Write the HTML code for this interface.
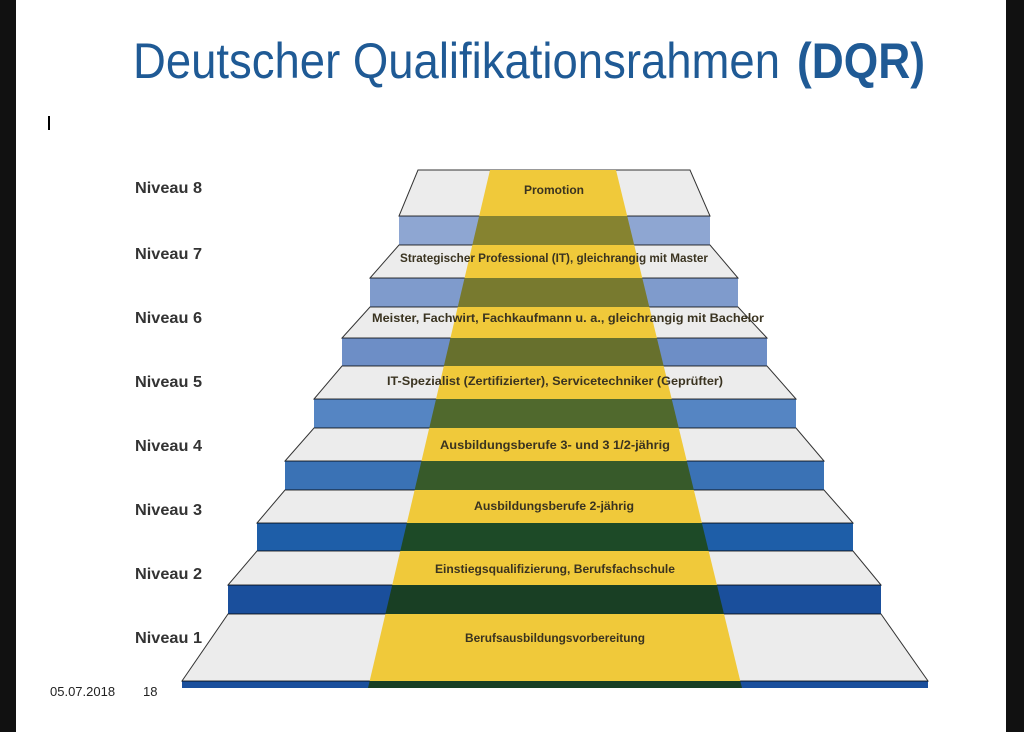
<!DOCTYPE html>
<html><head><meta charset="utf-8"><style>
html,body{margin:0;padding:0;background:#000;}
svg{display:block}
</style></head><body>
<svg width="1024" height="732" viewBox="0 0 1024 732" xmlns="http://www.w3.org/2000/svg">
<rect x="0" y="0" width="1024" height="732" fill="#111"/>
<rect x="16" y="0" width="990" height="732" fill="#fff"/>
<text x="133" y="78" font-family="Liberation Sans, sans-serif" font-size="50" fill="#1f5a95" textLength="647" lengthAdjust="spacingAndGlyphs">Deutscher Qualifikationsrahmen</text>
<text x="797" y="78" font-family="Liberation Sans, sans-serif" font-size="50" font-weight="bold" fill="#1f5a95" textLength="128" lengthAdjust="spacingAndGlyphs">(DQR)</text>
<rect x="48" y="116" width="2" height="14" fill="#000"/>

<g stroke="#333" stroke-width="1" fill="#ececec">
<polygon points="418,170 690,170 710,216 399,216"/>
<polygon points="399,245 710,245 738,278 370,278"/>
<polygon points="370,307 738,307 767,338 342,338"/>
<polygon points="342,366 767,366 796,399 314,399"/>
<polygon points="314,428 796,428 824,461 285,461"/>
<polygon points="285,490 824,490 853,523 257,523"/>
<polygon points="257,551 853,551 881,585 228,585"/>
<polygon points="228,614 881,614 928,681 182,681"/>
</g>
<polygon points="490,170 616,170 742,688 368,688" fill="#f0c93a"/>
<g style="mix-blend-mode:multiply">
<rect x="399" y="216" width="311" height="29" fill="#8ea6d2"/>
<rect x="370" y="278" width="368" height="29" fill="#7f9bcc"/>
<rect x="342" y="338" width="425" height="28" fill="#6d8ec6"/>
<rect x="314" y="399" width="482" height="29" fill="#5585c3"/>
<rect x="285" y="461" width="539" height="29" fill="#3a72b5"/>
<rect x="257" y="523" width="596" height="28" fill="#1e5ea8"/>
<rect x="228" y="585" width="653" height="29" fill="#1a4f9c"/>
<rect x="182" y="681" width="746" height="7" fill="#1a4f9c"/>
</g>
<g font-family="Liberation Sans Narrow, Liberation Sans, sans-serif" font-size="12" font-weight="bold" fill="#3a3320" text-anchor="middle">
<text x="554" y="194" textLength="60" lengthAdjust="spacingAndGlyphs">Promotion</text>
<text x="554" y="262" textLength="308" lengthAdjust="spacingAndGlyphs">Strategischer Professional (IT), gleichrangig mit Master</text>
<text x="568" y="322" textLength="392" lengthAdjust="spacingAndGlyphs">Meister, Fachwirt, Fachkaufmann u. a., gleichrangig mit Bachelor</text>
<text x="555" y="385" textLength="336" lengthAdjust="spacingAndGlyphs">IT-Spezialist (Zertifizierter), Servicetechniker (Geprüfter)</text>
<text x="555" y="449" textLength="230" lengthAdjust="spacingAndGlyphs">Ausbildungsberufe 3- und 3 1/2-jährig</text>
<text x="554" y="510" textLength="160" lengthAdjust="spacingAndGlyphs">Ausbildungsberufe 2-jährig</text>
<text x="555" y="573" textLength="240" lengthAdjust="spacingAndGlyphs">Einstiegsqualifizierung, Berufsfachschule</text>
<text x="555" y="642" textLength="180" lengthAdjust="spacingAndGlyphs">Berufsausbildungsvorbereitung</text>
</g>
<g font-family="Liberation Sans Narrow, Liberation Sans, sans-serif" font-size="16" font-weight="bold" fill="#333">
<text x="135" y="193" textLength="67" lengthAdjust="spacingAndGlyphs">Niveau 8</text>
<text x="135" y="259" textLength="67" lengthAdjust="spacingAndGlyphs">Niveau 7</text>
<text x="135" y="323" textLength="67" lengthAdjust="spacingAndGlyphs">Niveau 6</text>
<text x="135" y="387" textLength="67" lengthAdjust="spacingAndGlyphs">Niveau 5</text>
<text x="135" y="451" textLength="67" lengthAdjust="spacingAndGlyphs">Niveau 4</text>
<text x="135" y="515" textLength="67" lengthAdjust="spacingAndGlyphs">Niveau 3</text>
<text x="135" y="579" textLength="67" lengthAdjust="spacingAndGlyphs">Niveau 2</text>
<text x="135" y="643" textLength="67" lengthAdjust="spacingAndGlyphs">Niveau 1</text>
</g>
<text x="50" y="696" font-family="Liberation Sans, sans-serif" font-size="13" fill="#222">05.07.2018</text>
<text x="143" y="696" font-family="Liberation Sans, sans-serif" font-size="13" fill="#222">18</text>
</svg>
</body></html>
